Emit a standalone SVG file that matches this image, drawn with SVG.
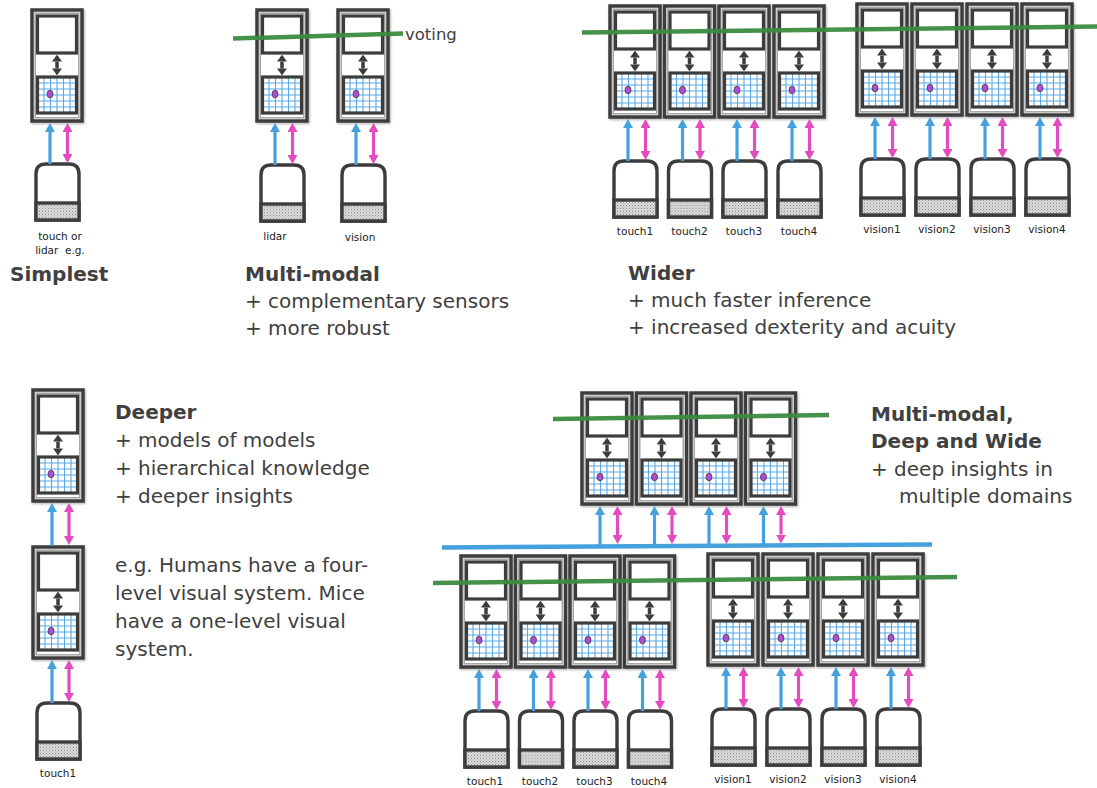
<svg xmlns="http://www.w3.org/2000/svg" xmlns:xlink="http://www.w3.org/1999/xlink" width="1097" height="788" viewBox="0 0 1097 788">
<style>
.outer{fill:#fff;stroke:#3c3c3c;stroke-width:3.5}
.inner{fill:none;stroke:#a8a8a8;stroke-width:1.6}
.box{fill:#fff;stroke:#3c3c3c;stroke-width:3.2}
.boxb{fill:none;stroke:#3c3c3c;stroke-width:3.2}
.grid{stroke:#5aa9e6;stroke-width:1.1}
.dot{fill:#b04ad8;stroke:#3c3c3c;stroke-width:0.8}
.dk{stroke:#3c3c3c;stroke-width:3.5;fill:none}
.sbody{fill:#fff;stroke:#3c3c3c;stroke-width:3.4}
.band{fill:url(#stip);stroke:#3c3c3c;stroke-width:3.4}
.ba{stroke:#45a1dc;stroke-width:3.2;fill:none}
.pa{stroke:#e24cbf;stroke-width:3.2;fill:none}
.gl{stroke:#3b8b3f;stroke-width:4.5;fill:none;opacity:0.95}
.bl{stroke:#45a1dc;stroke-width:4.5;fill:none}
.lab{font-family:'DejaVu Sans',sans-serif;font-size:10.5px;fill:#222;text-anchor:middle}
.h{font-family:'DejaVu Sans',sans-serif;font-size:20px;font-weight:bold;fill:#404040}
.t{font-family:'DejaVu Sans',sans-serif;font-size:20px;fill:#404040}
.v{font-family:'DejaVu Sans',sans-serif;font-size:16.5px;fill:#404040}
</style>
<defs>
<filter id="sh" x="-20%" y="-20%" width="140%" height="140%">
<feDropShadow dx="1" dy="1.2" stdDeviation="1.2" flood-color="#000" flood-opacity="0.3"/>
</filter>
<pattern id="stip" width="3" height="3" patternUnits="userSpaceOnUse">
<rect width="3" height="3" fill="#dcdcdc"/>
<rect x="0" y="0" width="1" height="1" fill="#8a8a8a"/>
<rect x="1.5" y="1.5" width="1" height="1" fill="#a0a0a0"/>
</pattern>
<marker id="hb" viewBox="0 0 9 10" markerWidth="9" markerHeight="10" refX="0" refY="5" orient="auto-start-reverse" markerUnits="userSpaceOnUse">
<path d="M0,0 L9,5 L0,10 Z" fill="#45a1dc"/>
</marker>
<marker id="hp" viewBox="0 0 9 10" markerWidth="9" markerHeight="10" refX="0" refY="5" orient="auto-start-reverse" markerUnits="userSpaceOnUse">
<path d="M0,0 L9,5 L0,10 Z" fill="#e24cbf"/>
</marker>
<marker id="hd" viewBox="0 0 7 10" markerWidth="7" markerHeight="10" refX="0" refY="5" orient="auto-start-reverse" markerUnits="userSpaceOnUse">
<path d="M0,0 L7,5 L0,10 Z" fill="#3c3c3c"/>
</marker>
<g id="mod">
<rect x="0" y="0" width="50" height="111" class="outer" filter="url(#sh)"/>
<rect x="3.2" y="3.2" width="43.6" height="104.6" class="inner"/>
<rect x="5.5" y="6" width="39" height="37" class="box"/>
<line x1="25" y1="51.6" x2="25" y2="58.4" class="dk" marker-start="url(#hd)" marker-end="url(#hd)"/>
<rect x="5.5" y="67" width="39" height="36" fill="#fff"/>
<path class="grid" d="M12,67V103M18.5,67V103M25,67V103M31.5,67V103M38,67V103M5.5,73H44.5M5.5,79H44.5M5.5,85H44.5M5.5,91H44.5M5.5,97H44.5"/>
<rect x="5.5" y="67" width="39" height="36" class="boxb"/>
<ellipse cx="18" cy="84" rx="3" ry="3.8" class="dot"/>
</g>
<g id="sen">
<path d="M0,57 V11 Q0,1 10,1 H33 Q43,1 43,11 V57 Z" class="sbody"/>
<rect x="0" y="40" width="43" height="17" class="band"/>
</g>
</defs>

<!-- Nodes -->
<g id="simplest">
<use xlink:href="#mod" x="32" y="10"/>
<use xlink:href="#sen" x="36" y="163"/>
<text class="lab" x="60" y="240">touch or</text>
<text class="lab" x="60" y="254">lidar&#160; e.g.</text>
</g>

<g id="mm-lidar">
<use xlink:href="#mod" x="257" y="10"/>
<use xlink:href="#sen" x="261" y="164"/>
<text class="lab" x="275" y="240">lidar</text>
</g>
<g id="mm-vision">
<use xlink:href="#mod" x="338" y="10"/>
<use xlink:href="#sen" x="342" y="164"/>
<text class="lab" x="360" y="241">vision</text>
</g>

<g id="w-touch1"><use xlink:href="#mod" x="610" y="6"/><use xlink:href="#sen" x="614" y="160"/><text class="lab" x="635" y="235">touch1</text></g>
<g id="w-touch2"><use xlink:href="#mod" x="664.5" y="6"/><use xlink:href="#sen" x="668.5" y="160"/><text class="lab" x="689.5" y="235">touch2</text></g>
<g id="w-touch3"><use xlink:href="#mod" x="719" y="6"/><use xlink:href="#sen" x="723" y="160"/><text class="lab" x="744" y="235">touch3</text></g>
<g id="w-touch4"><use xlink:href="#mod" x="774" y="6"/><use xlink:href="#sen" x="778" y="160"/><text class="lab" x="799" y="235">touch4</text></g>
<g id="w-vision1"><use xlink:href="#mod" x="857" y="4"/><use xlink:href="#sen" x="861" y="158"/><text class="lab" x="882" y="233">vision1</text></g>
<g id="w-vision2"><use xlink:href="#mod" x="912" y="4"/><use xlink:href="#sen" x="916" y="158"/><text class="lab" x="937" y="233">vision2</text></g>
<g id="w-vision3"><use xlink:href="#mod" x="967" y="4"/><use xlink:href="#sen" x="971" y="158"/><text class="lab" x="992" y="233">vision3</text></g>
<g id="w-vision4"><use xlink:href="#mod" x="1022" y="4"/><use xlink:href="#sen" x="1026" y="158"/><text class="lab" x="1047" y="233">vision4</text></g>

<g id="d-upper"><use xlink:href="#mod" x="33" y="390"/></g>
<g id="d-lower"><use xlink:href="#mod" x="33" y="547"/></g>
<g id="d-touch1"><use xlink:href="#sen" x="37" y="702"/><text class="lab" x="58" y="777">touch1</text></g>

<g id="dw-u1"><use xlink:href="#mod" x="582" y="393"/></g>
<g id="dw-u2"><use xlink:href="#mod" x="636.5" y="393"/></g>
<g id="dw-u3"><use xlink:href="#mod" x="691" y="393"/></g>
<g id="dw-u4"><use xlink:href="#mod" x="745.5" y="393"/></g>

<g id="dw-touch1"><use xlink:href="#mod" x="461" y="556"/><use xlink:href="#sen" x="465" y="710"/><text class="lab" x="485" y="785">touch1</text></g>
<g id="dw-touch2"><use xlink:href="#mod" x="515.5" y="556"/><use xlink:href="#sen" x="519.5" y="710"/><text class="lab" x="540" y="785">touch2</text></g>
<g id="dw-touch3"><use xlink:href="#mod" x="570" y="556"/><use xlink:href="#sen" x="574" y="710"/><text class="lab" x="594.5" y="785">touch3</text></g>
<g id="dw-touch4"><use xlink:href="#mod" x="624.5" y="556"/><use xlink:href="#sen" x="628.5" y="710"/><text class="lab" x="649" y="785">touch4</text></g>
<g id="dw-vision1"><use xlink:href="#mod" x="708" y="554"/><use xlink:href="#sen" x="712" y="708"/><text class="lab" x="733" y="783">vision1</text></g>
<g id="dw-vision2"><use xlink:href="#mod" x="763" y="554"/><use xlink:href="#sen" x="767" y="708"/><text class="lab" x="788" y="783">vision2</text></g>
<g id="dw-vision3"><use xlink:href="#mod" x="818" y="554"/><use xlink:href="#sen" x="822" y="708"/><text class="lab" x="843" y="783">vision3</text></g>
<g id="dw-vision4"><use xlink:href="#mod" x="873" y="554"/><use xlink:href="#sen" x="877" y="708"/><text class="lab" x="898" y="783">vision4</text></g>

<!-- Connectors -->
<g id="connectors">
<line class="ba" x1="50" y1="164" x2="50" y2="132" marker-end="url(#hb)"/>
<line class="pa" x1="67.5" y1="154" x2="67.5" y2="132" marker-start="url(#hp)" marker-end="url(#hp)"/>
<line class="ba" x1="275" y1="165" x2="275" y2="132" marker-end="url(#hb)"/>
<line class="pa" x1="292.5" y1="155" x2="292.5" y2="132" marker-start="url(#hp)" marker-end="url(#hp)"/>
<line class="ba" x1="356" y1="165" x2="356" y2="132" marker-end="url(#hb)"/>
<line class="pa" x1="373.5" y1="155" x2="373.5" y2="132" marker-start="url(#hp)" marker-end="url(#hp)"/>
<line class="ba" x1="628" y1="161" x2="628" y2="128" marker-end="url(#hb)"/>
<line class="pa" x1="645.5" y1="151" x2="645.5" y2="128" marker-start="url(#hp)" marker-end="url(#hp)"/>
<line class="ba" x1="682.5" y1="161" x2="682.5" y2="128" marker-end="url(#hb)"/>
<line class="pa" x1="700" y1="151" x2="700" y2="128" marker-start="url(#hp)" marker-end="url(#hp)"/>
<line class="ba" x1="737" y1="161" x2="737" y2="128" marker-end="url(#hb)"/>
<line class="pa" x1="754.5" y1="151" x2="754.5" y2="128" marker-start="url(#hp)" marker-end="url(#hp)"/>
<line class="ba" x1="792" y1="161" x2="792" y2="128" marker-end="url(#hb)"/>
<line class="pa" x1="809.5" y1="151" x2="809.5" y2="128" marker-start="url(#hp)" marker-end="url(#hp)"/>
<line class="ba" x1="875" y1="159" x2="875" y2="126" marker-end="url(#hb)"/>
<line class="pa" x1="892.5" y1="149" x2="892.5" y2="126" marker-start="url(#hp)" marker-end="url(#hp)"/>
<line class="ba" x1="930" y1="159" x2="930" y2="126" marker-end="url(#hb)"/>
<line class="pa" x1="947.5" y1="149" x2="947.5" y2="126" marker-start="url(#hp)" marker-end="url(#hp)"/>
<line class="ba" x1="985" y1="159" x2="985" y2="126" marker-end="url(#hb)"/>
<line class="pa" x1="1002.5" y1="149" x2="1002.5" y2="126" marker-start="url(#hp)" marker-end="url(#hp)"/>
<line class="ba" x1="1040" y1="159" x2="1040" y2="126" marker-end="url(#hb)"/>
<line class="pa" x1="1057.5" y1="149" x2="1057.5" y2="126" marker-start="url(#hp)" marker-end="url(#hp)"/>
<line class="ba" x1="52" y1="545.5" x2="52" y2="512" marker-end="url(#hb)"/>
<line class="pa" x1="69" y1="536" x2="69" y2="512" marker-start="url(#hp)" marker-end="url(#hp)"/>
<line class="ba" x1="52" y1="703" x2="52" y2="669" marker-end="url(#hb)"/>
<line class="pa" x1="69" y1="693" x2="69" y2="669" marker-start="url(#hp)" marker-end="url(#hp)"/>
<line class="ba" x1="600" y1="546" x2="600" y2="515" marker-end="url(#hb)"/>
<line class="pa" x1="617.5" y1="535" x2="617.5" y2="515" marker-start="url(#hp)" marker-end="url(#hp)"/>
<line class="ba" x1="654.5" y1="546" x2="654.5" y2="515" marker-end="url(#hb)"/>
<line class="pa" x1="672" y1="535" x2="672" y2="515" marker-start="url(#hp)" marker-end="url(#hp)"/>
<line class="ba" x1="709" y1="546" x2="709" y2="515" marker-end="url(#hb)"/>
<line class="pa" x1="726.5" y1="535" x2="726.5" y2="515" marker-start="url(#hp)" marker-end="url(#hp)"/>
<line class="ba" x1="763.5" y1="545.5" x2="763.5" y2="515" marker-end="url(#hb)"/>
<line class="pa" x1="781" y1="534.5" x2="781" y2="515" marker-start="url(#hp)" marker-end="url(#hp)"/>
<line class="ba" x1="479" y1="711" x2="479" y2="678" marker-end="url(#hb)"/>
<line class="pa" x1="496.5" y1="701" x2="496.5" y2="678" marker-start="url(#hp)" marker-end="url(#hp)"/>
<line class="ba" x1="533.5" y1="711" x2="533.5" y2="678" marker-end="url(#hb)"/>
<line class="pa" x1="551" y1="701" x2="551" y2="678" marker-start="url(#hp)" marker-end="url(#hp)"/>
<line class="ba" x1="588" y1="711" x2="588" y2="678" marker-end="url(#hb)"/>
<line class="pa" x1="605.5" y1="701" x2="605.5" y2="678" marker-start="url(#hp)" marker-end="url(#hp)"/>
<line class="ba" x1="642.5" y1="711" x2="642.5" y2="678" marker-end="url(#hb)"/>
<line class="pa" x1="660" y1="701" x2="660" y2="678" marker-start="url(#hp)" marker-end="url(#hp)"/>
<line class="ba" x1="726" y1="709" x2="726" y2="676" marker-end="url(#hb)"/>
<line class="pa" x1="743.5" y1="699" x2="743.5" y2="676" marker-start="url(#hp)" marker-end="url(#hp)"/>
<line class="ba" x1="781" y1="709" x2="781" y2="676" marker-end="url(#hb)"/>
<line class="pa" x1="798.5" y1="699" x2="798.5" y2="676" marker-start="url(#hp)" marker-end="url(#hp)"/>
<line class="ba" x1="836" y1="709" x2="836" y2="676" marker-end="url(#hb)"/>
<line class="pa" x1="853.5" y1="699" x2="853.5" y2="676" marker-start="url(#hp)" marker-end="url(#hp)"/>
<line class="ba" x1="891" y1="709" x2="891" y2="676" marker-end="url(#hb)"/>
<line class="pa" x1="908.5" y1="699" x2="908.5" y2="676" marker-start="url(#hp)" marker-end="url(#hp)"/>
<line class="gl" x1="233" y1="38.5" x2="403" y2="33.5"/>
<line class="gl" x1="582" y1="32.5" x2="1097" y2="26.5"/>
<line class="gl" x1="553" y1="419" x2="829" y2="415"/>
<line class="bl" x1="442" y1="547.5" x2="932" y2="544.5"/>
<line class="gl" x1="433" y1="583" x2="957" y2="577"/>
</g>

<!-- Texts -->
<g id="texts">
<text class="v" x="405" y="40">voting</text>
<text class="h" x="10" y="281">Simplest</text>
<text class="h" x="245" y="281">Multi-modal</text>
<text class="t" x="245" y="308">+ complementary sensors</text>
<text class="t" x="245" y="335">+ more robust</text>
<text class="h" x="628" y="280">Wider</text>
<text class="t" x="628" y="307">+ much faster inference</text>
<text class="t" x="628" y="334">+ increased dexterity and acuity</text>
<text class="h" x="115" y="419">Deeper</text>
<text class="t" x="115" y="447">+ models of models</text>
<text class="t" x="115" y="475">+ hierarchical knowledge</text>
<text class="t" x="115" y="503">+ deeper insights</text>
<text class="t" x="115" y="572">e.g. Humans have a four-</text>
<text class="t" x="115" y="600">level visual system. Mice</text>
<text class="t" x="115" y="628">have a one-level visual</text>
<text class="t" x="115" y="656">system.</text>
<text class="h" x="871" y="421">Multi-modal,</text>
<text class="h" x="871" y="448">Deep and Wide</text>
<text class="t" x="871" y="476">+ deep insights in</text>
<text class="t" x="899" y="503">multiple domains</text>
</g>
</svg>
